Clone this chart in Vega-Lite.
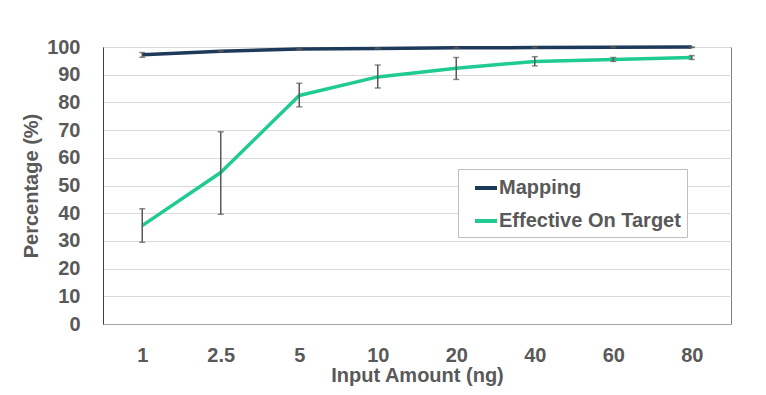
{
  "$schema": "https://vega.github.io/schema/vega-lite/v6.json",
  "autosize": {"type": "none"},
  "padding": {"left": 103, "top": 47, "right": 35, "bottom": 71},
  "width": 628,
  "height": 277,
  "background": "white",
  "config": {
    "view": {"stroke": "#7f7f7f", "strokeWidth": 1},
    "font": "Liberation Sans",
    "axisY": {
      "labelOverlap": false,
      "ticks": false,
      "gridColor": "#d9d9d9",
      "domainColor": "#404040",
      "labelFont": "Liberation Sans",
      "labelFontSize": 20,
      "labelFontWeight": "bold",
      "labelColor": "#595959",
      "labelPadding": 23,
      "titleFont": "Liberation Sans",
      "titleFontSize": 20,
      "titleFontWeight": "bold",
      "titleColor": "#595959",
      "titlePadding": 5
    }
  },
  "data": {
    "values": [
      {"amount": "1", "series": "Mapping", "value": 97.2, "low": 96.3, "high": 98.0},
      {"amount": "2.5", "series": "Mapping", "value": 98.5, "low": 98.3, "high": 98.7},
      {"amount": "5", "series": "Mapping", "value": 99.3, "low": 99.1, "high": 99.5},
      {"amount": "10", "series": "Mapping", "value": 99.5, "low": 99.3, "high": 99.7},
      {"amount": "20", "series": "Mapping", "value": 99.7, "low": 99.5, "high": 99.9},
      {"amount": "40", "series": "Mapping", "value": 99.8, "low": 99.6, "high": 100.0},
      {"amount": "60", "series": "Mapping", "value": 99.9, "low": 99.7, "high": 100.0},
      {"amount": "80", "series": "Mapping", "value": 100.0, "low": 99.8, "high": 100.0},
      {"amount": "1", "series": "Effective On Target", "value": 35.5, "low": 29.5, "high": 41.6},
      {"amount": "2.5", "series": "Effective On Target", "value": 54.7, "low": 39.6, "high": 69.4},
      {"amount": "5", "series": "Effective On Target", "value": 82.5, "low": 78.4, "high": 86.9},
      {"amount": "10", "series": "Effective On Target", "value": 89.2, "low": 85.2, "high": 93.5},
      {"amount": "20", "series": "Effective On Target", "value": 92.3, "low": 88.3, "high": 96.2},
      {"amount": "40", "series": "Effective On Target", "value": 94.8, "low": 93.2, "high": 96.5},
      {"amount": "60", "series": "Effective On Target", "value": 95.5, "low": 94.8, "high": 96.2},
      {"amount": "80", "series": "Effective On Target", "value": 96.2, "low": 95.5, "high": 96.9}
    ]
  },
  "encoding": {
    "x": {
      "field": "amount",
      "type": "ordinal",
      "sort": ["1", "2.5", "5", "10", "20", "40", "60", "80"],
      "scale": {"type": "point", "padding": 0.5},
      "axis": {
        "title": "Input Amount (ng)",
        "labelAngle": 0,
        "ticks": false,
        "grid": false,
        "domainColor": "#a6a6a6",
        "labelFont": "Liberation Sans",
        "labelFontSize": 20,
        "labelFontWeight": "bold",
        "labelColor": "#595959",
        "labelPadding": 21,
        "labelOverlap": false,
        "titleFont": "Liberation Sans",
        "titleFontSize": 20,
        "titleFontWeight": "bold",
        "titleColor": "#595959",
        "titlePadding": 0
      }
    }
  },
  "layer": [
    {
      "mark": {"type": "line", "strokeWidth": 3.5, "strokeCap": "butt", "strokeJoin": "round"},
      "encoding": {
        "y": {
          "field": "value",
          "type": "quantitative",
          "scale": {"domain": [0, 100]},
          "axis": {"title": "Percentage (%)", "values": [0, 10, 20, 30, 40, 50, 60, 70, 80, 90, 100]}
        },
        "color": {
          "field": "series",
          "type": "nominal",
          "scale": {"domain": ["Mapping", "Effective On Target"], "range": ["#1e3a5a", "#1fcb93"]},
          "legend": {
            "title": null,
            "orient": "none",
            "legendX": 355,
            "legendY": 122,
            "direction": "vertical",
            "symbolType": "stroke",
            "symbolSize": 484,
            "symbolStrokeWidth": 4,
            "symbolOffset": 9,
            "labelOffset": 0,
            "labelLimit": 400,
            "labelFont": "Liberation Sans",
            "labelFontSize": 20,
            "labelFontWeight": "bold",
            "labelColor": "#595959",
            "rowPadding": 10,
            "padding": 6,
            "strokeColor": "#bfbfbf",
            "fillColor": "white"
          }
        }
      }
    },
    {
      "mark": {"type": "rule", "color": "#595959", "strokeWidth": 1.5},
      "encoding": {
        "y": {"field": "low", "type": "quantitative", "axis": {"title": "Percentage (%)", "values": [0, 10, 20, 30, 40, 50, 60, 70, 80, 90, 100]}},
        "y2": {"field": "high"}
      }
    },
    {
      "mark": {"type": "tick", "color": "#595959", "size": 6, "thickness": 1.5},
      "encoding": {
        "y": {"field": "low", "type": "quantitative", "axis": {"title": "Percentage (%)", "values": [0, 10, 20, 30, 40, 50, 60, 70, 80, 90, 100]}}
      }
    },
    {
      "mark": {"type": "tick", "color": "#595959", "size": 6, "thickness": 1.5},
      "encoding": {
        "y": {"field": "high", "type": "quantitative", "axis": {"title": "Percentage (%)", "values": [0, 10, 20, 30, 40, 50, 60, 70, 80, 90, 100]}}
      }
    }
  ]
}
